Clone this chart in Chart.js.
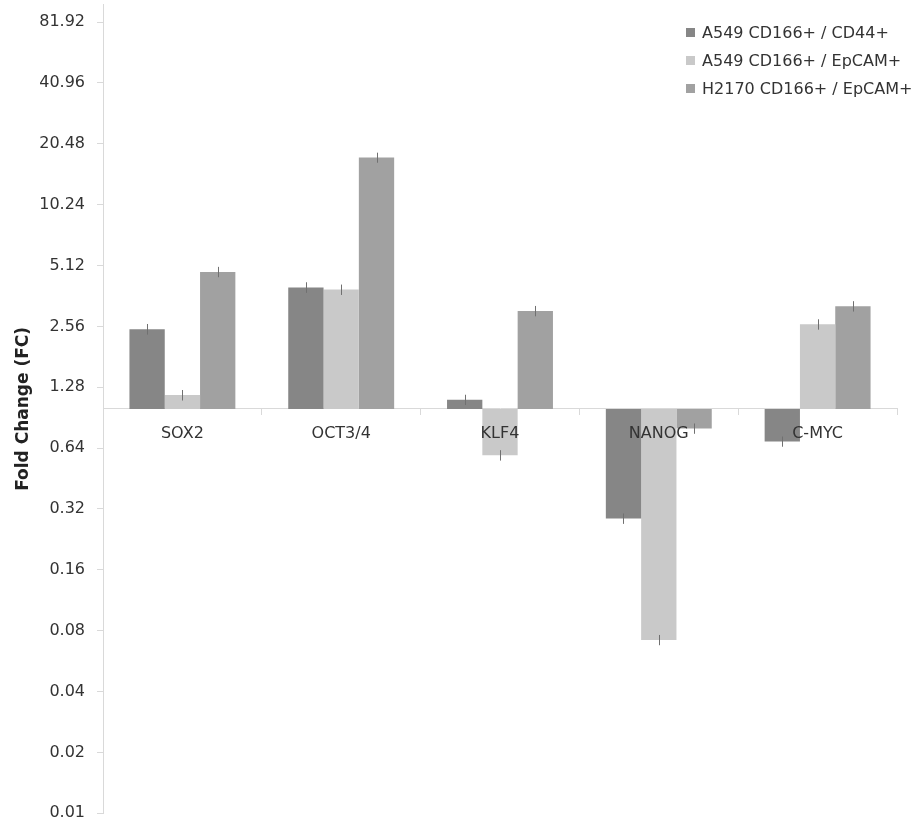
<!DOCTYPE html>
<html>
<head>
<meta charset="utf-8">
<title>Fold Change (FC)</title>
<script src="https://cdn.jsdelivr.net/npm/chart.js@4.4.0/dist/chart.umd.min.js"></script>
<style>
  body { margin: 0; background: #fff; }
  #wrap { position: relative; width: 922px; height: 825px; }
  #legend { position: absolute; left: 686px; top: 18px; font: 16px "DejaVu Sans", sans-serif; color: #333; }
  #legend div { height: 28px; display: flex; align-items: center; white-space: nowrap; }
  #legend span { display: inline-block; width: 9px; height: 9px; margin-right: 7px; }
</style>
</head>
<body>
<div id="wrap">
  <canvas id="chart" width="922" height="825"></canvas>
  <div id="legend"></div>
</div>
<script>
// categories and series (fold change, baseline 1)
const genes = ['SOX2', 'OCT3/4', 'KLF4', 'NANOG', 'C-MYC'];
const seriesNames = ['A549 CD166+ / CD44+', 'A549 CD166+ / EpCAM+', 'H2170 CD166+ / EpCAM+'];
const a549Cd44 = [2.48, 3.99, 1.11, 0.287, 0.69];
const a549Epcam = [1.17, 3.89, 0.59, 0.072, 2.62];
const h2170Epcam = [4.76, 17.5, 3.05, 0.80, 3.22];
// error bars (+/-)
const a549Cd44Err = [0.15, 0.24, 0.065, 0.017, 0.04];
const a549EpcamErr = [0.07, 0.23, 0.035, 0.0042, 0.155];
const h2170EpcamErr = [0.28, 1.0, 0.18, 0.047, 0.19];
// y tick labels
const yTicks = [0.01, 0.02, 0.04, 0.08, 0.16, 0.32, 0.64, 1.28, 2.56, 5.12, 10.24, 20.48, 40.96, 81.92];

const colors = ['#868686', '#c9c9c9', '#a1a1a1'];
const baseline = 1;

Chart.defaults.font.family = '"DejaVu Sans", sans-serif';
Chart.defaults.font.size = 16;
Chart.defaults.color = '#333';

// floating bars from the baseline to the value
const toBars = (vals) => vals.map(v => [baseline, v]);

const errorBars = {
    id: 'errorBars',
    afterDatasetsDraw(chart) {
        const ctx = chart.ctx;
        const yScale = chart.scales.y;
        ctx.save();
        ctx.strokeStyle = '#707070';
        ctx.lineWidth = 1;
        chart.data.datasets.forEach((ds, i) => {
            const meta = chart.getDatasetMeta(i);
            meta.data.forEach((bar, j) => {
                const v = ds.data[j][1];
                const e = ds.errors[j];
                const top = yScale.getPixelForValue(v + e);
                const bottom = yScale.getPixelForValue(v - e);
                const x = Math.round(bar.x) + 0.5;
                ctx.beginPath();
                ctx.moveTo(x, top);
                ctx.lineTo(x, bottom);
                ctx.stroke();
            });
        });
        ctx.restore();
    }
};

const chart = new Chart(document.getElementById('chart'), {
    type: 'bar',
    data: {
        labels: genes,
        datasets: [
            { label: seriesNames[0], data: toBars(a549Cd44), errors: a549Cd44Err, backgroundColor: colors[0] },
            { label: seriesNames[1], data: toBars(a549Epcam), errors: a549EpcamErr, backgroundColor: colors[1] },
            { label: seriesNames[2], data: toBars(h2170Epcam), errors: h2170EpcamErr, backgroundColor: colors[2] },
        ],
    },
    options: {
        responsive: false,
        animation: false,
        layout: { padding: { left: 4, right: 25, top: 4.5, bottom: 11.7 } },
        datasets: {
            bar: { categoryPercentage: 0.667, barPercentage: 1.0, borderWidth: 0 },
        },
        plugins: {
            legend: { display: false },
            tooltip: { enabled: false },
        },
        scales: {
            x: {
                position: { y: baseline },
                offset: true,
                grid: { offset: true, drawOnChartArea: false, tickLength: 6, color: '#d9d9d9' },
                border: { color: '#d9d9d9' },
                ticks: { z: 1, color: '#333', padding: 9, maxRotation: 0 },
                afterFit(scale) {
                    scale.paddingLeft = 0;
                    scale.paddingRight = 0;
                },
            },
            y: {
                type: 'logarithmic',
                min: 0.01,
                max: 100,
                afterBuildTicks(scale) {
                    scale.ticks = yTicks.map(v => ({ value: v }));
                },
                ticks: { color: '#333', padding: 12, callback: (v) => String(v) },
                grid: { drawOnChartArea: false, tickLength: 6, color: '#d9d9d9' },
                border: { color: '#d9d9d9' },
                title: {
                    display: true,
                    text: 'Fold Change (FC)',
                    color: '#222',
                    font: { size: 17, weight: 'bold' },
                    padding: { top: 9, bottom: 0 },
                },
                afterFit(scale) {
                    scale.width = 99;
                    scale.paddingTop = 0;
                    scale.paddingBottom = 0;
                },
            },
        },
    },
    plugins: [errorBars],
});

// legend in the top right corner
const legendEl = document.getElementById('legend');
chart.data.datasets.forEach((ds) => {
    const row = document.createElement('div');
    const box = document.createElement('span');
    box.style.background = ds.backgroundColor;
    row.appendChild(box);
    row.appendChild(document.createTextNode(ds.label));
    legendEl.appendChild(row);
});
</script>
</body>
</html>
